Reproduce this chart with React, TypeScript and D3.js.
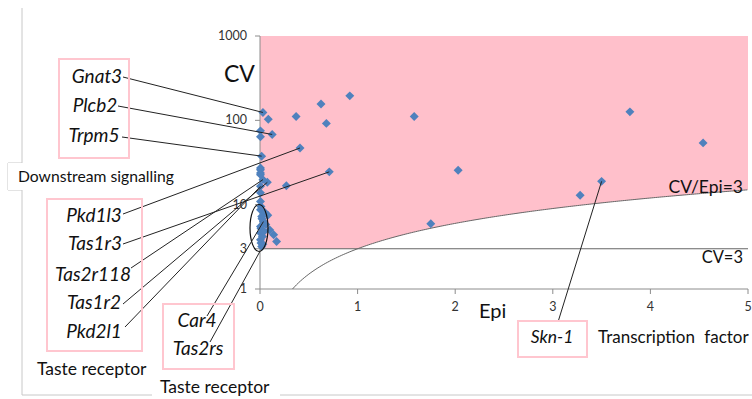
import React from "react";
import * as d3 from "d3";

// Epithelium (Epi) and circumvallate (CV) expression values per gene
const epi = [
  0.03, 0.085, 0.37, 0.625, 0.92, 0.68, 1.58, 0.005, 0.005, 0.125,
  0.41, 0.017, 0.005, 0.005, 0.03, 0.075, 0.005, 0.27, 0.71, 0.005,
  0.005, 0.005, 0.05, 0.017, 0.035, 0.06, 0.1, 0.14, 0.17, 0.005,
  0.005, 0.017, 0.005, 3.79, 4.54, 2.03, 3.5, 3.28, 1.75,
  0.01, 0.02, 0.01, 0.025, 0.01, 0.03, 0.04, 0.08, 0.005, 0.005,
];
const cv = [
  124, 103, 111, 156, 195, 92, 111, 75, 64, 68,
  47, 37.6, 27.3, 23.8, 19.8, 18.4, 16.5, 16.8, 24.5, 13.8,
  10.9, 8.7, 8.1, 7.25, 6.3, 5.8, 5.0, 4.4, 3.66, 4.6,
  3.83, 3.19, 5.5, 126, 54, 25.6, 18.9, 12.9, 5.94,
  9.5, 6.8, 5.2, 4.2, 3.5, 3.4, 4.8, 7.5, 26, 22.7,
];

const xTicks = [0, 1, 2, 3, 4, 5];
const yTicks = [1, 3, 10, 100, 1000];

// Callout genes and the (Epi, CV) value each one points at
const calloutGenes = ["Gnat3", "Plcb2", "Trpm5", "Pkd1l3", "Tas1r3", "Tas2r118", "Tas1r2", "Pkd2l1", "Car4", "Tas2rs", "Skn-1"];
const calloutEpi = [0.03, 0.125, 0.017, 0.41, 0.71, 0.03, 0.075, 0.005, 0.035, 0.0, 3.5];
const calloutCv = [124, 68, 37.6, 47, 24.5, 19.8, 18.4, 16.5, 6.3, 2.8, 18.9];

// Label anchors: centre x, baseline y, and where the leader line leaves the text
const calloutLayout = [
  { cx: 97, by: 83, lx: 123, ly: 77 },
  { cx: 95, by: 112, lx: 118, ly: 106 },
  { cx: 94, by: 142, lx: 122, ly: 137 },
  { cx: 94, by: 222, lx: 123, ly: 214 },
  { cx: 95, by: 250, lx: 123, ly: 244 },
  { cx: 93, by: 281, lx: 131, ly: 268 },
  { cx: 94, by: 309, lx: 123, ly: 304 },
  { cx: 94, by: 338, lx: 125, ly: 327 },
  { cx: 197, by: 327, lx: 207, ly: 316 },
  { cx: 198, by: 355, lx: 210, ly: 342 },
  { cx: 552, by: 343, lx: 558, ly: 322 },
];

const W = 752;
const H = 399;
const FONT = "Lato, 'Open Sans', sans-serif";

export default function App() {
  const x = d3.scaleLinear().domain([0, 5]).range([260, 748]);
  const y = d3.scaleLog().domain([1, 1000]).range([289, 36]);

  // Region where CV >= 3 and CV/Epi >= 3
  const grid = d3.range(0, 5.0001, 0.02);
  const region = d3
    .area<number>()
    .x((d) => x(d))
    .y0((d) => y(Math.max(3, 3 * d)))
    .y1(() => y(1000))(grid);

  const ratioLine = d3
    .line<number>()
    .x((d) => x(d))
    .y((d) => y(3 * d))(d3.range(1 / 3, 5.0001, 0.02));

  const diamond = d3.symbol(d3.symbolSquare, 40)();

  const gray = "#8c8c8c";
  const boxPink = "#ffc6cf";

  return (
    <svg width={W} height={H} style={{ position: "absolute", left: 0, top: 0, background: "#fff" }}>
      {/* outer frame */}
      <path d="M22,8 V163 H8 V190 H22 V395 H152 M280,395 H752" fill="none" stroke="#c8c8c8" strokeWidth={1} />

      {/* shaded region */}
      <path d={region ?? ""} fill="#ffc0cb" />

      {/* axes */}
      <line x1={x(0)} x2={x(0)} y1={y(1000)} y2={y(1)} stroke={gray} />
      <line x1={x(0)} x2={x(5)} y1={y(1)} y2={y(1)} stroke={gray} />
      {yTicks.map((t) => (
        <g key={"y" + t}>
          <line x1={x(0) - 5} x2={x(0)} y1={y(t)} y2={y(t)} stroke={gray} />
          <text x={x(0) - 13} y={y(t) + 4} textAnchor="end" fontSize={12.5} fontFamily={FONT} fill="#333">
            {t}
          </text>
        </g>
      ))}
      {xTicks.map((t) => (
        <g key={"x" + t}>
          <line x1={x(t)} x2={x(t)} y1={y(1)} y2={y(1) + 5} stroke={gray} />
          <text x={x(t)} y={y(1) + 22} textAnchor="middle" fontSize={12.5} fontFamily={FONT} fill="#333">
            {t}
          </text>
        </g>
      ))}

      {/* threshold lines */}
      <line x1={x(0)} x2={x(5)} y1={y(3)} y2={y(3)} stroke="#666" strokeWidth={1} />
      <path d={ratioLine ?? ""} fill="none" stroke="#666" strokeWidth={1} />

      {/* data points */}
      {epi.map((e, i) => (
        <path
          key={"p" + i}
          d={diamond ?? ""}
          transform={`translate(${x(e)},${y(cv[i])}) rotate(45)`}
          fill="#4f81bd"
        />
      ))}

      {/* ellipse around the bitter receptor cluster */}
      <ellipse cx={x(0) - 1} cy={228} rx={9} ry={23.5} fill="none" stroke="#111" strokeWidth={1.2} />

      {/* leader lines */}
      {calloutGenes.map((g, i) => (
        <line
          key={"l" + g}
          x1={calloutLayout[i].lx}
          y1={calloutLayout[i].ly}
          x2={x(calloutEpi[i])}
          y2={y(calloutCv[i])}
          stroke="#222"
          strokeWidth={1}
        />
      ))}

      {/* label boxes */}
      <rect x={59} y={59} width={70} height={99} fill="none" stroke={boxPink} strokeWidth={2} />
      <rect x={47} y={199} width={95} height={152} fill="none" stroke={boxPink} strokeWidth={2} />
      <rect x={163} y={304} width={71} height={65} fill="none" stroke={boxPink} strokeWidth={2} />
      <rect x={518} y={321} width={69} height={36} fill="none" stroke={boxPink} strokeWidth={2} />

      {calloutGenes.map((g, i) => (
        <text
          key={"t" + g}
          x={calloutLayout[i].cx}
          y={calloutLayout[i].by}
          textAnchor="middle"
          fontSize={g === "Skn-1" ? 17.5 : 19}
          fontStyle="italic"
          fontFamily={FONT}
          fill="#111"
        >
          {g}
        </text>
      ))}

      {/* category captions */}
      <rect x={8} y={163} width={168} height={27} fill="#fff" />
      <text x={18} y={182} fontSize={15.7} fontFamily={FONT} fill="#111">
        Downstream signalling
      </text>
      <text x={37} y={375} fontSize={17.5} fontFamily={FONT} fill="#111">
        Taste receptor
      </text>
      <text x={160} y={393} fontSize={17.5} fontFamily={FONT} fill="#111">
        Taste receptor
      </text>
      <text x={598} y={343} fontSize={17} fontFamily={FONT} fill="#111" wordSpacing={5}>
        Transcription factor
      </text>

      {/* threshold labels */}
      <text x={743} y={193} textAnchor="end" fontSize={17.5} fontFamily={FONT} fill="#111">
        CV/Epi=3
      </text>
      <text x={743} y={263} textAnchor="end" fontSize={16.5} fontFamily={FONT} fill="#111">
        CV=3
      </text>

      {/* axis titles */}
      <text x={224} y={82} fontSize={23} fontFamily={FONT} fill="#111">
        CV
      </text>
      <text x={479} y={318} fontSize={20} fontFamily={FONT} fill="#111">
        Epi
      </text>
    </svg>
  );
}
